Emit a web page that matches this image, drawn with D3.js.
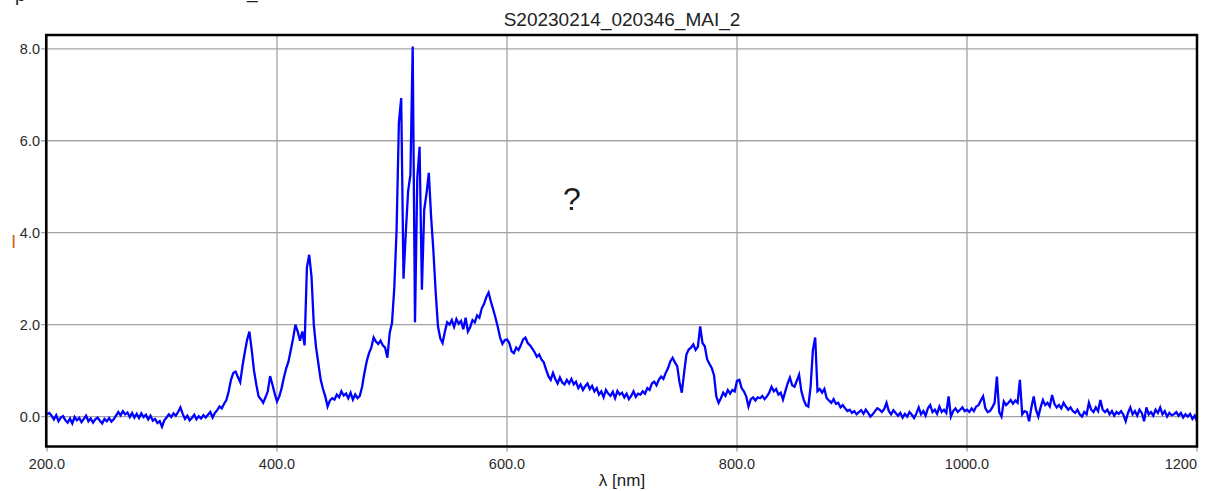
<!DOCTYPE html>
<html>
<head>
<meta charset="utf-8">
<script src="https://cdn.jsdelivr.net/npm/d3@7"></script>
<style>
  html, body { margin: 0; padding: 0; background: #ffffff; }
  svg { display: block; }
  text { font-family: "Liberation Sans", Arial, sans-serif; }
</style>
</head>
<body>
<svg id="chart" width="1217" height="491"></svg>
<script>
// ---- data ----
const chartTitle = "S20230214_020346_MAI_2";
const xAxisTitle = "λ [nm]";
const yAxisTitle = "I";
const annotation = "?";
const lambdaStart = 200;   // nm, first sample
const lambdaStep = 2;      // nm between samples
const xTicks = [200, 400, 600, 800, 1000, 1200];
const xTickLabels = ["200.0", "400.0", "600.0", "800.0", "1000.0", "1200"];
const yTicks = [0, 2, 4, 6, 8];
const yTickLabels = ["0.0", "2.0", "4.0", "6.0", "8.0"];
// intensity, one row per 20 nm (10 samples)
const intensity = [
  0.05, 0.08, 0.02, -0.06, 0.03, -0.10, -0.02, 0.01, -0.08, -0.13,   // 200
  -0.04, -0.15, -0.01, -0.08, -0.03, -0.12, -0.05, 0.02, -0.10, -0.04, // 220
  -0.13, -0.06, -0.02, -0.09, -0.15, -0.05, -0.10, -0.03, -0.11, -0.06, // 240
  0.02, 0.10, 0.03, 0.12, 0.05, 0.09, -0.01, 0.08, -0.02, 0.06,     // 260
  -0.03, 0.07, -0.01, 0.04, -0.06, 0.02, -0.09, -0.05, -0.14, -0.10, // 280
  -0.22, -0.08, -0.02, 0.05, -0.01, 0.07, 0.02, 0.10, 0.20, 0.06,   // 300
  -0.05, 0.02, -0.08, -0.03, 0.04, -0.06, 0.01, -0.04, 0.03, -0.02, // 320
  0.04, 0.10, -0.02, 0.08, 0.14, 0.22, 0.18, 0.28, 0.36, 0.55,      // 340
  0.80, 0.95, 0.98, 0.86, 0.75, 1.10, 1.40, 1.67, 1.85, 1.45,       // 360
  1.00, 0.70, 0.44, 0.38, 0.30, 0.42, 0.55, 0.88, 0.70, 0.50,       // 380
  0.33, 0.44, 0.62, 0.85, 1.05, 1.20, 1.45, 1.70, 2.00, 1.85,       // 400
  1.65, 1.85, 1.55, 3.24, 3.52, 3.05, 2.00, 1.50, 1.15, 0.80,       // 420
  0.60, 0.44, 0.22, 0.35, 0.40, 0.37, 0.48, 0.42, 0.55, 0.46,       // 440
  0.50, 0.40, 0.52, 0.37, 0.48, 0.40, 0.45, 0.65, 0.95, 1.20,       // 460
  1.38, 1.50, 1.72, 1.63, 1.58, 1.65, 1.55, 1.50, 1.28, 1.82,       // 480
  2.04, 2.80, 4.07, 6.40, 6.93, 3.00, 4.00, 4.90, 5.26, 8.05,       // 500
  2.05, 5.20, 5.87, 2.76, 4.50, 4.85, 5.30, 4.35, 3.60, 2.70,       // 520
  1.96, 1.70, 1.60, 1.85, 2.05, 2.00, 2.10, 1.95, 2.12, 2.02,       // 540
  2.08, 1.90, 2.15, 1.85, 1.95, 2.10, 2.05, 2.20, 2.15, 2.35,       // 560
  2.45, 2.60, 2.70, 2.50, 2.33, 2.15, 1.95, 1.72, 1.58, 1.66,       // 580
  1.68, 1.60, 1.42, 1.38, 1.50, 1.45, 1.55, 1.68, 1.72, 1.60,       // 600
  1.55, 1.48, 1.40, 1.30, 1.35, 1.24, 1.18, 1.02, 0.88, 0.80,       // 620
  0.95, 0.82, 0.72, 0.85, 0.74, 0.70, 0.80, 0.72, 0.82, 0.70,       // 640
  0.76, 0.62, 0.70, 0.58, 0.66, 0.72, 0.60, 0.67, 0.55, 0.62,       // 660
  0.48, 0.55, 0.42, 0.58, 0.50, 0.45, 0.54, 0.40, 0.56, 0.48,       // 680
  0.52, 0.42, 0.50, 0.38, 0.45, 0.55, 0.43, 0.50, 0.48, 0.55,       // 700
  0.50, 0.62, 0.58, 0.72, 0.76, 0.68, 0.80, 0.87, 0.82, 0.95,       // 720
  1.05, 1.20, 1.28, 1.18, 1.10, 0.75, 0.52, 0.95, 1.35, 1.46,       // 740
  1.50, 1.57, 1.45, 1.52, 1.96, 1.60, 1.53, 1.25, 1.15, 1.06,       // 760
  0.90, 0.44, 0.30, 0.40, 0.52, 0.45, 0.58, 0.50, 0.58, 0.55,       // 780
  0.78, 0.80, 0.62, 0.55, 0.44, 0.22, 0.38, 0.42, 0.35, 0.42,       // 800
  0.40, 0.45, 0.38, 0.44, 0.52, 0.65, 0.55, 0.60, 0.48, 0.52,       // 820
  0.37, 0.55, 0.72, 0.85, 0.68, 0.65, 0.78, 0.91, 0.55, 0.37,       // 840
  0.25, 0.22, 0.65, 1.45, 1.72, 0.55, 0.60, 0.52, 0.60, 0.40,       // 860
  0.35, 0.30, 0.38, 0.28, 0.30, 0.20, 0.25, 0.18, 0.12, 0.15,       // 880
  0.08, 0.12, 0.05, 0.10, 0.14, 0.06, 0.15, 0.08, 0.00, 0.05,       // 900
  0.12, 0.18, 0.15, 0.10, 0.16, 0.30, 0.12, 0.05, 0.14, 0.08,       // 920
  0.02, 0.08, -0.02, 0.06, 0.00, 0.10, 0.04, -0.03, 0.07, 0.20,     // 940
  0.05, 0.12, 0.02, 0.18, 0.25, 0.10, 0.15, 0.06, 0.22, 0.10,       // 960
  0.15, 0.08, 0.44, 0.00, 0.12, 0.18, 0.10, 0.15, 0.20, 0.12,       // 980
  0.15, 0.10, 0.18, 0.12, 0.22, 0.25, 0.35, 0.44, 0.18, 0.10,       // 1000
  0.12, 0.20, 0.30, 0.87, 0.10, 0.00, 0.33, 0.25, 0.30, 0.36,       // 1020
  0.28, 0.35, 0.30, 0.80, 0.05, 0.12, 0.10, -0.10, 0.20, 0.44,      // 1040
  0.15, 0.00, 0.20, 0.36, 0.25, 0.30, 0.22, 0.47, 0.28, 0.20,       // 1060
  0.25, 0.18, 0.30, 0.22, 0.15, 0.20, 0.12, 0.08, 0.15, 0.05,       // 1080
  0.00, 0.10, 0.05, 0.30, 0.15, 0.10, 0.20, 0.12, 0.36, 0.15,       // 1100
  0.10, 0.15, 0.05, 0.12, 0.02, 0.10, 0.06, 0.12, 0.04, -0.10,      // 1120
  0.08, 0.20, 0.05, 0.12, 0.02, 0.15, 0.08, -0.10, 0.20, 0.05,      // 1140
  0.10, 0.02, 0.15, 0.08, 0.20, 0.05, 0.12, 0.00, 0.08, 0.03,       // 1160
  0.05, 0.10, 0.02, 0.08, -0.02, 0.05, 0.00, 0.06, -0.05, 0.02,     // 1180
  -0.10                                                             // 1200
];

// ---- drawing ----
const svg = d3.select("#chart");
const x = d3.scaleLinear().domain([200, 1200]).range([47, 1197]);
const y = d3.scaleLinear().domain([-0.65, 8.3]).range([446.5, 35]);
const [x0, x1] = x.range();
const [yB, yT] = y.range();

const points = intensity.map((v, i) => [lambdaStart + i * lambdaStep, v]);

// fragments of a text line cut off at the top edge (as in the reference)
svg.append("text").attr("x", 15).attr("y", 1).attr("font-size", 19).attr("fill", "#222").text("p");
svg.append("text").attr("x", 247).attr("y", -2).attr("font-size", 19).attr("fill", "#222").text("_");

// grid
const gridColor = "#a3a3a3";
svg.append("g").selectAll("line").data(yTicks).join("line")
  .attr("x1", x0 - 6).attr("x2", x1)
  .attr("y1", d => y(d)).attr("y2", d => y(d))
  .attr("stroke", gridColor).attr("stroke-width", 1.3);
svg.append("g").selectAll("line").data(xTicks).join("line")
  .attr("x1", d => x(d)).attr("x2", d => x(d))
  .attr("y1", yT).attr("y2", yB + 5)
  .attr("stroke", gridColor).attr("stroke-width", 1.3);

// series
const clipId = "plotclip";
svg.append("clipPath").attr("id", clipId).append("rect")
  .attr("x", x0 - 1).attr("y", yT).attr("width", x1 - x0 + 2).attr("height", yB - yT);
svg.append("path")
  .datum(points)
  .attr("clip-path", `url(#${clipId})`)
  .attr("fill", "none")
  .attr("stroke", "#0000ff")
  .attr("stroke-width", 2.3)
  .attr("stroke-linejoin", "miter")
  .attr("d", d3.line().x(d => x(d[0])).y(d => y(d[1])));

// frame
svg.append("rect")
  .attr("x", x0 - 0.8).attr("y", yT)
  .attr("width", x1 - x0 + 0.8).attr("height", yB - yT)
  .attr("fill", "none").attr("stroke", "#000").attr("stroke-width", 2.5);

// tick labels
svg.append("g").selectAll("text").data(yTicks).join("text")
  .attr("x", x0 - 7).attr("y", d => y(d) + 5)
  .attr("text-anchor", "end").attr("font-size", 14.5).attr("fill", "#2a2a2a")
  .text((d, i) => yTickLabels[i]);
svg.append("g").selectAll("text").data(xTicks).join("text")
  .attr("x", d => x(d)).attr("y", 469)
  .attr("text-anchor", (d, i) => i === xTicks.length - 1 ? "end" : "middle")
  .attr("font-size", 14.5).attr("fill", "#2a2a2a")
  .text((d, i) => xTickLabels[i]);

// titles
svg.append("text").attr("x", 622).attr("y", 26).attr("text-anchor", "middle")
  .attr("font-size", 19).attr("fill", "#222").text(chartTitle);
svg.append("text").attr("x", 622).attr("y", 486).attr("text-anchor", "middle")
  .attr("font-size", 17).attr("fill", "#222").text(xAxisTitle);
svg.append("text").attr("x", 11).attr("y", 248)
  .attr("font-size", 19).attr("fill", "#d2691e").text(yAxisTitle);
svg.append("text").attr("x", 572).attr("y", 210).attr("text-anchor", "middle")
  .attr("font-size", 32).attr("fill", "#1a1a1a").text(annotation);
</script>
</body>
</html>
